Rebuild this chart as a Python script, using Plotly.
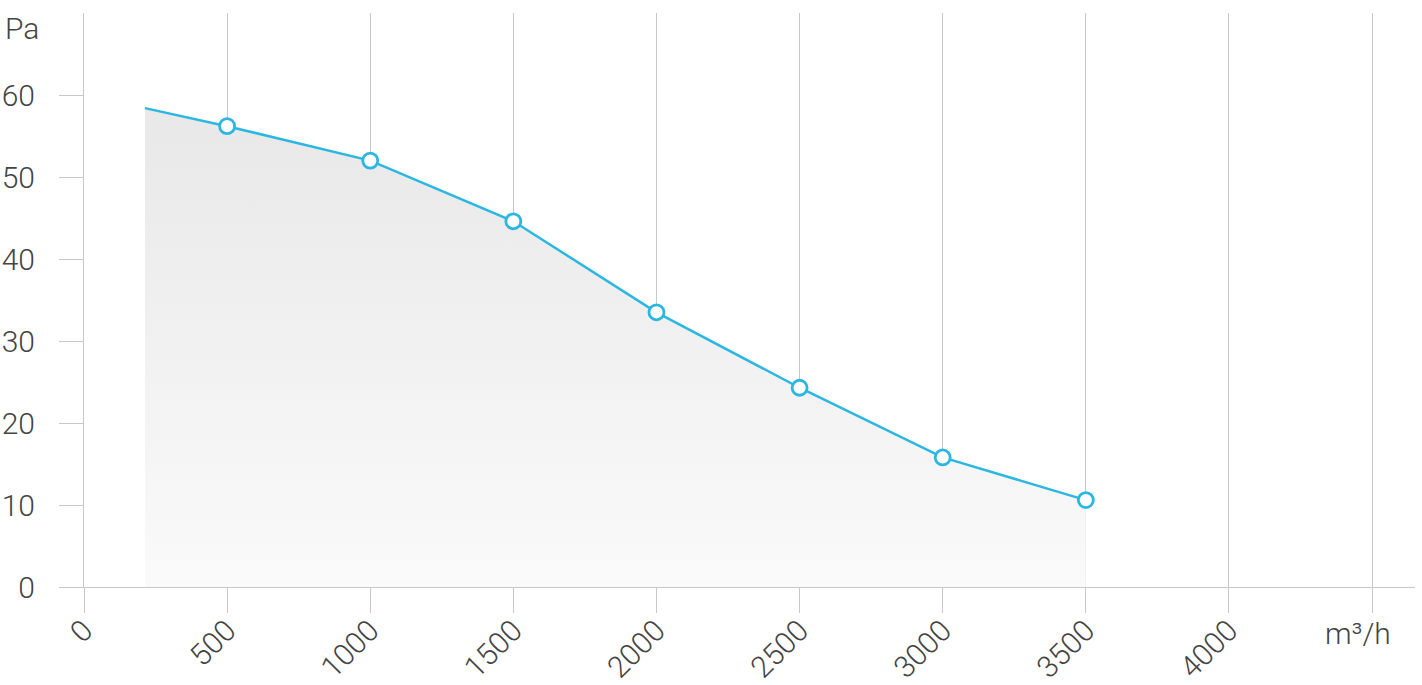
import plotly.graph_objects as go

flow = [213, 500, 1000, 1500, 2000, 2500, 3000, 3500]
pressure = [58.4, 56.2, 52.0, 44.6, 33.5, 24.3, 15.8, 10.6]
marker_flow = [500, 1000, 1500, 2000, 2500, 3000, 3500]
marker_pressure = [56.2, 52.0, 44.6, 33.5, 24.3, 15.8, 10.6]
x_ticks = [0, 500, 1000, 1500, 2000, 2500, 3000, 3500, 4000, 4500]
x_labels = ["0", "500", "1000", "1500", "2000", "2500", "3000", "3500", "4000", ""]
y_ticks = [0, 10, 20, 30, 40, 50, 60]

BLUE = "#2bb7e2"
GRID = "#c8c8c8"
TXT = "#444444"
FONT = "Roboto"
FS = 30

def f(size=FS):
    return dict(family=FONT, size=size, color=TXT, weight=300)

fig = go.Figure()
fig.add_trace(go.Scatter(
    x=flow, y=pressure, mode="lines", fill="tozeroy",
    fillgradient=dict(type="vertical", start=0, stop=55,
                      colorscale=[[0, "rgba(250,250,250,1)"], [1, "rgba(233,233,233,1)"]]),
    line=dict(color=BLUE, width=2.5), hoverinfo="skip", showlegend=False))
fig.add_trace(go.Scatter(
    x=marker_flow, y=marker_pressure, mode="markers",
    marker=dict(size=15, color="white", line=dict(color=BLUE, width=2.8)),
    showlegend=False))

fig.update_layout(
    width=1422, height=685,
    margin=dict(l=84, r=7, t=13, b=98, autoexpand=False),
    paper_bgcolor="white", plot_bgcolor="white",
    font=f(),
    xaxis=dict(range=[0, 4650], tickvals=x_ticks, ticktext=x_labels, tickangle=-45,
               automargin=False,
               showgrid=True, gridcolor=GRID, gridwidth=1,
               ticks="outside", ticklen=25, tickcolor=GRID, tickwidth=1,
               ticklabelstandoff=-12,
               showline=True, linecolor=GRID, linewidth=1, zeroline=False,
               tickfont=f()),
    yaxis=dict(range=[0, 70], tickvals=y_ticks, showgrid=False, automargin=False,
               ticks="outside", ticklen=24, tickcolor=GRID, tickwidth=1,
               ticklabelstandoff=18,
               showline=True, linecolor=GRID, linewidth=1, zeroline=False,
               tickfont=f()),
    annotations=[
        dict(text="Pa", x=0, xref="paper", xshift=-81, y=70, yref="y", yshift=-15,
             xanchor="left", yanchor="middle", showarrow=False, font=f()),
        dict(text="m³/h", x=4500, xref="x", xshift=-14, y=0, yref="paper", yshift=-46,
             xanchor="center", yanchor="middle", showarrow=False, font=f()),
    ],
)
fig.write_html("out.html", config={"displayModeBar": False},
               post_script="document.body.style.margin='0';document.body.style.overflow='hidden';")
